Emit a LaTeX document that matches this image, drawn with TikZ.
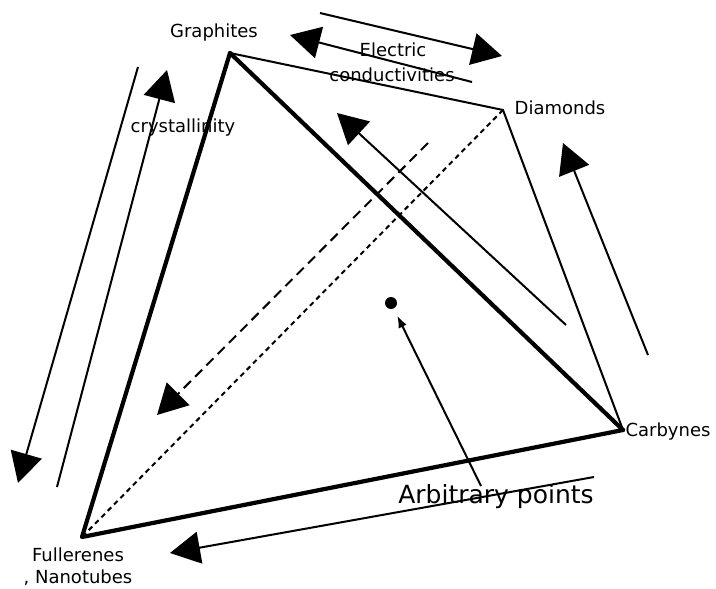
\documentclass[tikz,border=0pt]{standalone}
\usepackage{fontspec}
\setmainfont{DejaVu Sans}
\usetikzlibrary{arrows.meta,positioning}

\begin{document}
\begin{tikzpicture}[x=1pt,y=-1pt,
  edge/.style={line width=4.2pt,line cap=round,line join=round},
  thinedge/.style={line width=2pt,line cap=round},
  dashedge/.style={line width=2pt,dash pattern=on 6pt off 5pt},
  bigarrow/.style={line width=2pt,-{Triangle[length=30pt,width=32pt]}},
  ptarrow/.style={line width=2pt,-{Latex[length=12pt,width=9pt]}},
  lbl/.style={font=\fontsize{18}{20}\selectfont,inner sep=1pt}]
\useasboundingbox (0,0) rectangle (716,589);

% corners
\coordinate (G) at (230,53);
\coordinate (D) at (503,110);
\coordinate (C) at (623,430);
\coordinate (F) at (82,537);

% labels
\node[lbl] (graph) at (214,33) {Graphites};
\node[lbl] (diam) at (560,108) {Diamonds};
\node[lbl] (carb) at (668,432) {Carbynes};
\node[lbl] (full) at (78,555) {Fullerenes};
\node[lbl] (nano) at (78,578) {, Nanotubes};
\node[lbl] (cryst) at (183,128) {crystallinity};
\node[lbl] (elec) at (393,50) {Electric};
\node[lbl] (cond) at (392,75) {conductivities};
\node[font=\fontsize{25}{28}\selectfont,inner sep=1pt] (arb) at (496,497) {Arbitrary points};
\node[circle,fill,inner sep=0pt,minimum size=12pt] (dot) at (391,303) {};

% edges
\draw[edge] (G) -- (C);
\draw[edge] (G) -- (F) -- (C);
\draw[thinedge] (G) -- (D) -- (C);
\draw[dashedge,dash pattern=on 5pt off 4pt] (D) -- (F);

% arrow ends
\coordinate (e1a) at (320,13);
\coordinate (e1b) at (502,56);
\coordinate (e2a) at (472,82);
\coordinate (e2b) at (290,35);
\coordinate (c1a) at (138,67);
\coordinate (c1b) at (18,483);
\coordinate (c2a) at (57,487);
\coordinate (c2b) at (167,70);
\coordinate (m1a) at (566,325);
\coordinate (m1b) at (337,113);
\coordinate (r1a) at (648,355);
\coordinate (r1b) at (563,143);
\coordinate (b1a) at (594,477);
\coordinate (b1b) at (170,553);
\coordinate (d1a) at (428,143);
\coordinate (d1b) at (157,415);
\coordinate (arbtail) at (481,486);

% arrows
\draw[bigarrow] (e1a) -- (e1b);
\draw[bigarrow] (e2a) -- (e2b);
\draw[bigarrow] (c1a) -- (c1b);
\draw[bigarrow] (c2a) -- (c2b);
\draw[bigarrow] (m1a) -- (m1b);
\draw[bigarrow] (r1a) -- (r1b);
\draw[bigarrow] (b1a) -- (b1b);
\draw[bigarrow,dash pattern=on 10pt off 6pt] (d1a) -- (d1b);
\draw[ptarrow,shorten >=8pt] (arbtail) -- (dot);
\end{tikzpicture}
\end{document}
